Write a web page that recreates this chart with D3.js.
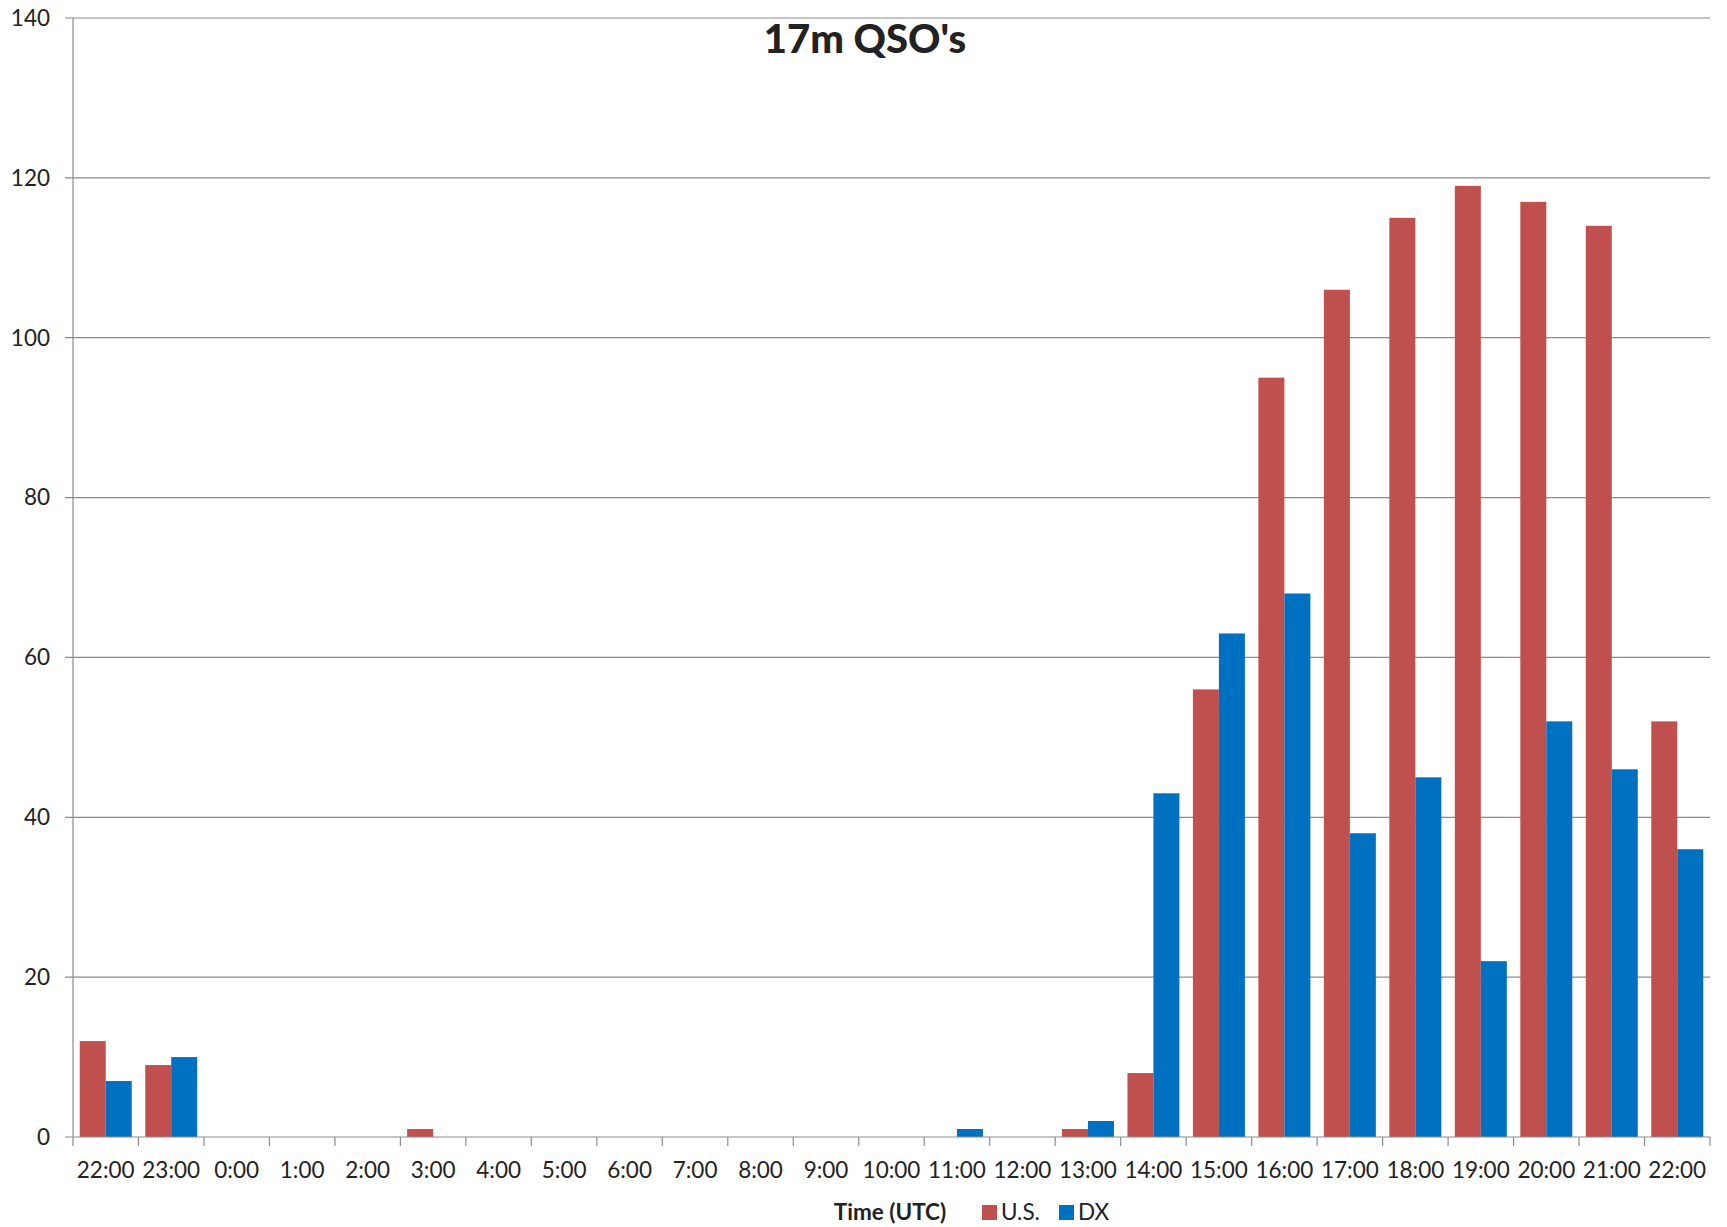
<!DOCTYPE html>
<html>
<head>
<meta charset="utf-8">
<script src="https://cdn.jsdelivr.net/npm/d3@7/dist/d3.min.js"></script>
<style>
  html, body { margin: 0; padding: 0; background: #fff; }
  svg text { font-family: Lato, "Open Sans", "Liberation Sans", sans-serif; fill: #222; }
</style>
</head>
<body>
<svg id="chart" width="1727" height="1227"></svg>
<script>
// Hourly QSO counts on 17 m, split by U.S. and DX stations
const hours = ["22:00","23:00","0:00","1:00","2:00","3:00","4:00","5:00","6:00","7:00","8:00",
  "9:00","10:00","11:00","12:00","13:00","14:00","15:00","16:00","17:00","18:00","19:00",
  "20:00","21:00","22:00 "];
const usCounts = [12, 9, 0, 0, 0, 1, 0, 0, 0, 0, 0, 0, 0, 0, 0, 1, 8, 56, 95, 106, 115, 119, 117, 114, 52];
const dxCounts = [7, 10, 0, 0, 0, 0, 0, 0, 0, 0, 0, 0, 0, 1, 0, 2, 43, 63, 68, 38, 45, 22, 52, 46, 36];
const yTicks = [0, 20, 40, 60, 80, 100, 120, 140];
const seriesNames = ["U.S.", "DX"];
const seriesColors = ["#C0504D", "#0070C0"];

const svg = d3.select("#chart");
const plotLeft = 73, plotRight = 1710, plotTop = 18, plotBottom = 1137;

const x = d3.scaleBand().domain(hours).range([plotLeft, plotRight]).paddingInner(0).paddingOuter(0);
const inner = d3.scaleBand().domain(seriesNames).range([0, x.bandwidth()]).paddingInner(0).paddingOuter(0.26);
const y = d3.scaleLinear().domain([0, 140]).range([plotBottom, plotTop]);

// horizontal gridlines
svg.append("g").selectAll("line").data(yTicks.filter(d => d > 0)).join("line")
  .attr("x1", plotLeft - 8).attr("x2", plotRight)
  .attr("y1", d => y(d)).attr("y2", d => y(d))
  .attr("stroke", "#8c8c8c").attr("stroke-width", 1.2);

// y-axis labels
svg.append("g").selectAll("text").data(yTicks).join("text")
  .attr("x", 50).attr("y", d => y(d)).attr("dy", "0.35em")
  .attr("text-anchor", "end").attr("font-size", 22.5).text(d => d);

// bars
const series = [usCounts, dxCounts];
series.forEach((vals, si) => {
  svg.append("g").selectAll("rect").data(vals).join("rect")
    .attr("x", (d, i) => x(hours[i]) + inner(seriesNames[si]))
    .attr("width", inner.bandwidth())
    .attr("y", d => y(d))
    .attr("height", d => y(0) - y(d))
    .attr("fill", seriesColors[si]);
});

// axis lines
svg.append("line").attr("x1", plotLeft).attr("x2", plotLeft).attr("y1", plotTop).attr("y2", plotBottom)
  .attr("stroke", "#8c8c8c").attr("stroke-width", 1.2);
svg.append("line").attr("x1", plotLeft - 8).attr("x2", plotRight).attr("y1", plotBottom).attr("y2", plotBottom)
  .attr("stroke", "#8c8c8c").attr("stroke-width", 1.2);

// category tick marks at band boundaries
const boundaries = hours.map(h => x(h)).concat([plotRight]);
svg.append("g").selectAll("line").data(boundaries).join("line")
  .attr("x1", d => d).attr("x2", d => d)
  .attr("y1", plotBottom).attr("y2", plotBottom + 9)
  .attr("stroke", "#8c8c8c").attr("stroke-width", 1.2);

// category labels
svg.append("g").selectAll("text").data(hours).join("text")
  .attr("x", d => x(d) + x.bandwidth() / 2).attr("y", 1178)
  .attr("text-anchor", "middle").attr("font-size", 22.5).text(d => d.trim());

// title
svg.append("text").attr("x", 865).attr("y", 53).attr("text-anchor", "middle")
  .attr("font-size", 40).attr("font-weight", "900").attr("fill", "#000").text("17m QSO's");

// x-axis title
svg.append("text").attr("x", 890).attr("y", 1220).attr("text-anchor", "middle")
  .attr("font-size", 22.5).attr("font-weight", "bold").text("Time (UTC)");

// legend
const legend = svg.append("g");
const legendItems = [{ name: seriesNames[0], color: seriesColors[0], x: 982 }, { name: seriesNames[1], color: seriesColors[1], x: 1059 }];
legendItems.forEach(it => {
  legend.append("rect").attr("x", it.x).attr("y", 1205).attr("width", 15).attr("height", 15).attr("fill", it.color);
  legend.append("text").attr("x", it.x + 19).attr("y", 1220).attr("font-size", 22.5).text(it.name);
});
</script>
</body>
</html>
